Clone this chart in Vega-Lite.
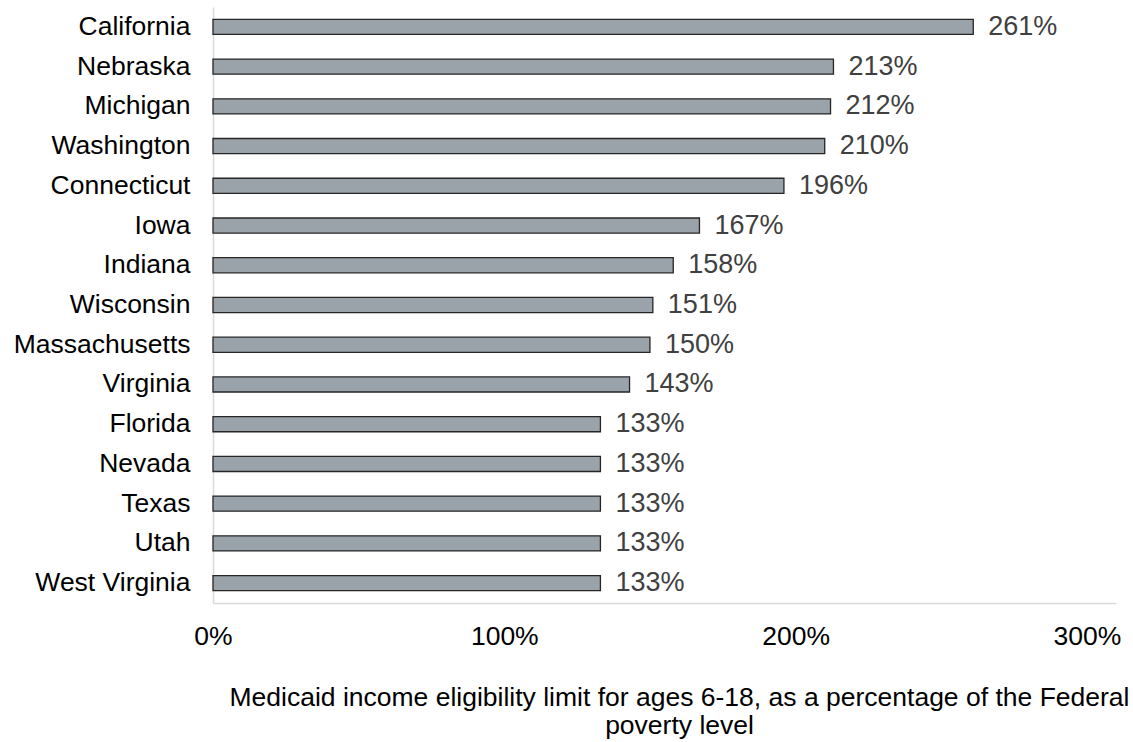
{
  "$schema": "https://vega.github.io/schema/vega-lite/v6.json",
  "autosize": "none",
  "width": 903,
  "height": 596,
  "padding": {"left": 213, "top": 7, "right": 17, "bottom": 139},
  "background": "white",
  "config": {"view": {"stroke": null}, "font": "Liberation Sans"},
  "data": {"values": [
    {"state": "California", "value": 261, "label": "261%"},
    {"state": "Nebraska", "value": 213, "label": "213%"},
    {"state": "Michigan", "value": 212, "label": "212%"},
    {"state": "Washington", "value": 210, "label": "210%"},
    {"state": "Connecticut", "value": 196, "label": "196%"},
    {"state": "Iowa", "value": 167, "label": "167%"},
    {"state": "Indiana", "value": 158, "label": "158%"},
    {"state": "Wisconsin", "value": 151, "label": "151%"},
    {"state": "Massachusetts", "value": 150, "label": "150%"},
    {"state": "Virginia", "value": 143, "label": "143%"},
    {"state": "Florida", "value": 133, "label": "133%"},
    {"state": "Nevada", "value": 133, "label": "133%"},
    {"state": "Texas", "value": 133, "label": "133%"},
    {"state": "Utah", "value": 133, "label": "133%"},
    {"state": "West Virginia", "value": 133, "label": "133%"}
  ]},
  "encoding": {
    "y": {"field": "state", "type": "nominal", "sort": null,
      "scale": {"paddingInner": 0.62, "paddingOuter": 0.31},
      "axis": {"title": null, "ticks": false, "domainColor": "#d9d9d9", "domainWidth": 1.5, "labelLimit": 300,
        "labelFontSize": 26.5, "labelColor": "#000000", "labelPadding": 23, "labelFont": "Liberation Sans"}},
    "x": {"field": "value", "type": "quantitative",
      "scale": {"domain": [0, 310], "nice": false},
      "axis": {"values": [0, 100, 200, 300], "grid": false, "ticks": false,
        "domainColor": "#d9d9d9", "domainWidth": 1.5, "labelFlush": false,
        "labelExpr": "datum.value + '%'", "labelFontSize": 26.5, "labelColor": "#000000", "labelPadding": 41, "labelBaseline": "alphabetic",
        "title": ["Medicaid income eligibility limit for ages 6-18, as a percentage of the Federal", "poverty level"],
        "titleFontSize": 26.5, "titleFontWeight": "normal", "titleColor": "#000000", "titleFont": "Liberation Sans",
        "titleLineHeight": 28, "titleX": 466, "titleY": 102, "titleAnchor": null, "titleAlign": "center", "titleBaseline": "alphabetic"}}
  },
  "layer": [
    {"mark": {"type": "bar", "color": "#9aa2aa", "stroke": "#262626", "strokeWidth": 1.3}},
    {"mark": {"type": "text", "align": "left", "baseline": "middle", "dx": 15, "fontSize": 27, "color": "#404040", "font": "Liberation Sans"},
     "encoding": {"text": {"field": "label"}}}
  ]
}
